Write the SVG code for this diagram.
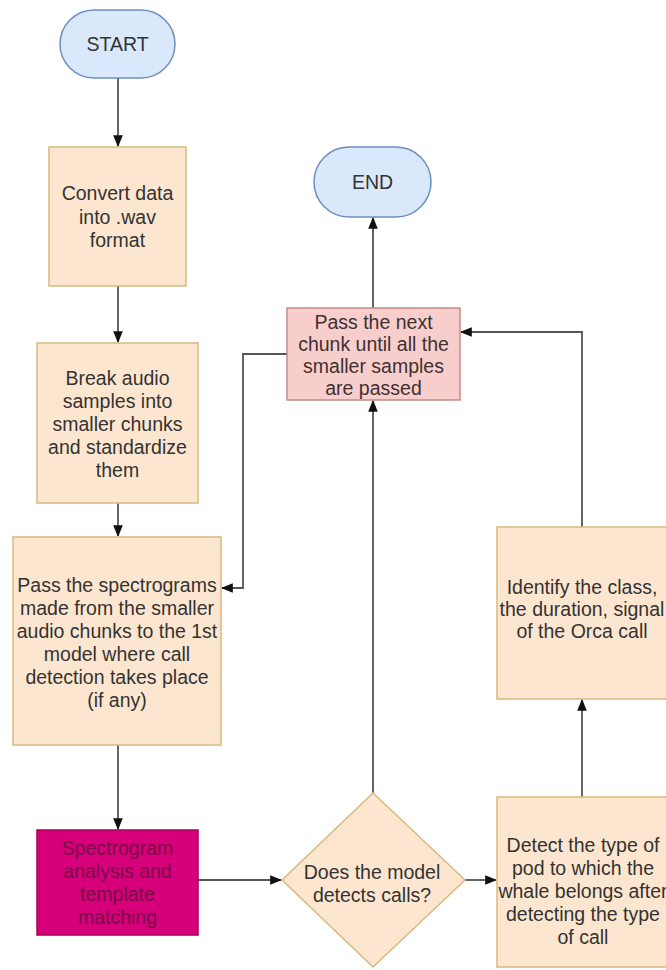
<svg xmlns="http://www.w3.org/2000/svg" width="666" height="970" viewBox="0 0 666 970">
<style>
  text { font-family: "Liberation Sans", Arial, Helvetica, sans-serif; font-size: 19.5px; text-anchor: middle; fill: #333333; }
  .pill { fill: #dae8fc; stroke: #6c8ebf; stroke-width: 1.5; }
  .box { fill: #fde6cf; stroke: #d9b980; stroke-width: 1.5; }
  .pink { fill: #f8cecc; stroke: #c68a88; stroke-width: 1.5; }
  .mag { fill: #d6007a; stroke: #a8005a; stroke-width: 1.5; }
  .magt { fill: #7a0a48; }
  .pinkt { fill: #403030; }
  .edge { fill: none; stroke: #555555; stroke-width: 1.8; marker-end: url(#arr); }
</style>
<defs>
  <marker id="arr" markerUnits="userSpaceOnUse" markerWidth="12" markerHeight="12" viewBox="0 0 10 10" refX="9" refY="5" orient="auto">
    <path d="M0,1 L10,5 L0,9 Z" fill="#111111"/>
  </marker>
</defs>
<rect width="666" height="970" fill="#ffffff"/>

<g id="connectors">
  <path class="edge" d="M118,78 L118,146"/>
  <path class="edge" d="M118,286 L118,342"/>
  <path class="edge" d="M118,503 L118,536"/>
  <path class="edge" d="M118,745 L118,829"/>
  <path class="edge" d="M198,880 L281,880"/>
  <path class="edge" d="M465,880 L496,880"/>
  <path class="edge" d="M582,797 L582,700"/>
  <path class="edge" d="M582,527 L582,332 L461,332"/>
  <path class="edge" d="M373,793 L373,401"/>
  <path class="edge" d="M373,308 L373,218"/>
  <path class="edge" d="M287,354 L243,354 L243,588 L222,588"/>
</g>

<g id="start">
  <rect class="pill" x="60" y="10" width="115" height="68" rx="34" ry="34"/>
  <text x="117.5" y="51">START</text>
</g>

<g id="end">
  <rect class="pill" x="314" y="147" width="117" height="70" rx="35" ry="35"/>
  <text x="372.5" y="189">END</text>
</g>

<g id="convert">
  <rect class="box" x="49" y="147" width="137" height="139"/>
  <text x="117.5" y="200">Convert data</text>
  <text x="117.5" y="224">into .wav</text>
  <text x="117.5" y="247">format</text>
</g>

<g id="break">
  <rect class="box" x="37" y="343" width="161" height="160"/>
  <text x="117.5" y="385">Break audio</text>
  <text x="117.5" y="408">samples into</text>
  <text x="117.5" y="431">smaller chunks</text>
  <text x="117.5" y="454">and standardize</text>
  <text x="117.5" y="477">them</text>
</g>

<g id="passspec">
  <rect class="box" x="13" y="537" width="208" height="208"/>
  <text x="117" y="592">Pass the spectrograms</text>
  <text x="117" y="615">made from the smaller</text>
  <text x="117" y="638">audio chunks to the 1st</text>
  <text x="117" y="661">model where call</text>
  <text x="117" y="684">detection takes place</text>
  <text x="117" y="707">(if any)</text>
</g>

<g id="spectrogram">
  <rect class="mag" x="37" y="830" width="161" height="105"/>
  <text class="magt" x="117.5" y="855">Spectrogram</text>
  <text class="magt" x="117.5" y="878">analysis and</text>
  <text class="magt" x="117.5" y="901">template</text>
  <text class="magt" x="117.5" y="924">matching</text>
</g>

<g id="decision">
  <polygon class="box" points="373,793 465,880 373,967 282,880"/>
  <text x="372" y="879">Does the model</text>
  <text x="372" y="902">detects calls?</text>
</g>

<g id="detect">
  <rect class="box" x="497" y="797" width="170" height="170"/>
  <text x="583" y="852">Detect the type of</text>
  <text x="583" y="875">pod to which the</text>
  <text x="583" y="898">whale belongs after</text>
  <text x="583" y="921">detecting the type</text>
  <text x="583" y="944">of call</text>
</g>

<g id="identify">
  <rect class="box" x="497" y="527" width="170" height="172"/>
  <text x="582" y="594">Identify the class,</text>
  <text x="582" y="616">the duration, signal</text>
  <text x="582" y="638">of the Orca call</text>
</g>

<g id="passnext">
  <rect class="pink" x="287" y="308" width="173" height="92"/>
  <text class="pinkt" x="373.5" y="329">Pass the next</text>
  <text class="pinkt" x="373.5" y="351">chunk until all the</text>
  <text class="pinkt" x="373.5" y="373">smaller samples</text>
  <text class="pinkt" x="373.5" y="395">are passed</text>
</g>
</svg>
